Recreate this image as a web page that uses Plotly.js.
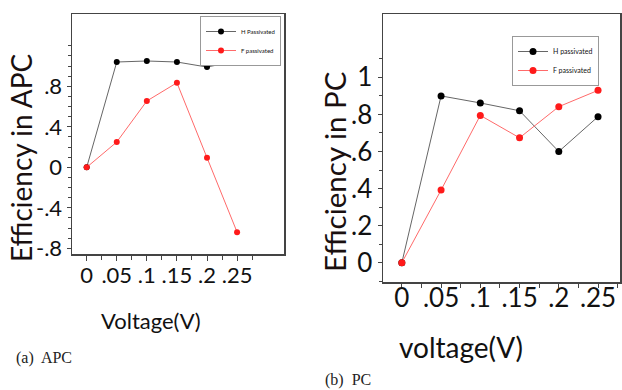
<!DOCTYPE html>
<html>
<head>
<meta charset="utf-8">
<script src="https://cdn.plot.ly/plotly-3.0.1.min.js"></script>
<style>html,body{margin:0;padding:0;background:#fff;} #chart{width:622px;height:390px;}</style>
</head>
<body>
<div id="chart"></div>
<script>
// ---- data ----
const voltage = [0, 0.05, 0.1, 0.15, 0.2, 0.25];
const apcH = [0, 1.04, 1.05, 1.04, 0.99, 1.05];
const apcF = [0, 0.25, 0.655, 0.835, 0.095, -0.64];
const pcH = [0, 0.90, 0.862, 0.82, 0.60, 0.788];
const pcF = [0, 0.392, 0.795, 0.674, 0.842, 0.93];

const xTickVals = [0, 0.05, 0.1, 0.15, 0.2, 0.25];
const xTickText = ['0', '.05', '.1', '.15', '.2', '.25'];
const apcYTickVals = [-0.8, -0.4, 0, 0.4, 0.8];
const apcYTickText = ['-.8', '-.4', '0', '.4', '.8'];
const pcYTickVals = [0, 0.2, 0.4, 0.6, 0.8, 1];
const pcYTickText = ['0', '.2', '.4', '.6', '.8', '1'];
const apcYMinor = [-0.7, -0.6, -0.5, -0.3, -0.2, -0.1, 0.1, 0.2, 0.3, 0.5, 0.6, 0.7, 0.9, 1.0, 1.1, 1.2];
const pcYMinor = [-0.1, 0.1, 0.3, 0.5, 0.7, 0.9, 1.1];
const apcXMinor = [0.025, 0.075, 0.125, 0.175, 0.225, 0.275];
const pcXMinor = [-0.025, 0.025, 0.075, 0.125, 0.175, 0.225, 0.275];

const W = 622, H = 390;
const FONT = 'Lato, "Open Sans", sans-serif';
const SERIF = '"Liberation Serif", "DejaVu Serif", serif';

const blackLine = '#666666', blackMark = '#000000';
const redLine = '#ff6a6a', redMark = '#ff1a1a';

const traces = [
  {x: voltage, y: apcH, name: 'H Passivated', mode: 'lines+markers', xaxis: 'x', yaxis: 'y', legend: 'legend',
   line: {color: blackLine, width: 1}, marker: {color: blackMark, size: 6}},
  {x: voltage, y: apcF, name: 'F passivated', mode: 'lines+markers', xaxis: 'x', yaxis: 'y', legend: 'legend',
   line: {color: redLine, width: 1}, marker: {color: redMark, size: 6}},
  {x: voltage, y: pcH, name: 'H passivated', mode: 'lines+markers', xaxis: 'x2', yaxis: 'y2', legend: 'legend2',
   line: {color: blackLine, width: 1}, marker: {color: blackMark, size: 7}},
  {x: voltage, y: pcF, name: 'F passivated', mode: 'lines+markers', xaxis: 'x2', yaxis: 'y2', legend: 'legend2',
   line: {color: redLine, width: 1}, marker: {color: redMark, size: 7}}
];

function px(x) { return x / W; }
function py(y) { return 1 - y / H; }

const axisCommon = {
  showgrid: false, zeroline: false, showline: true, mirror: true,
  linecolor: '#444', linewidth: 1.5, ticks: 'outside', tickcolor: '#444',
  tickfont: {family: FONT, color: '#111'}
};

const layout = {
  width: W, height: H,
  margin: {l: 0, r: 0, t: 0, b: 0},
  paper_bgcolor: '#fff', plot_bgcolor: '#fff',
  font: {family: FONT, color: '#111'},
  xaxis: Object.assign({}, axisCommon, {
    domain: [px(72), px(284)], anchor: 'y', range: [-0.0244, 0.328],
    tickvals: xTickVals, ticktext: xTickText, ticklen: 5, tickwidth: 1,
    ticklabelstandoff: -4,
    tickfont: {family: FONT, size: 22, color: '#111'},
    minor: {tickvals: apcXMinor, ticks: 'outside', ticklen: 4, tickcolor: '#444'}
  }),
  yaxis: Object.assign({}, axisCommon, {
    domain: [py(254), py(14)], anchor: 'x', range: [-0.856, 1.514],
    tickvals: apcYTickVals, ticktext: apcYTickText, ticklen: 4, tickwidth: 1,
    tickfont: {family: FONT, size: 22, color: '#111'},
    minor: {tickvals: apcYMinor, ticks: 'outside', ticklen: 3, tickcolor: '#444'}
  }),
  xaxis2: Object.assign({}, axisCommon, {
    domain: [px(383), px(620)], anchor: 'y2', range: [-0.024, 0.278],
    tickvals: xTickVals, ticktext: xTickText, ticklen: 4, tickwidth: 1,
    ticklabelstandoff: -12,
    tickfont: {family: FONT, size: 26, color: '#111'},
    minor: {tickvals: pcXMinor, ticks: 'outside', ticklen: 4, tickcolor: '#444'}
  }),
  yaxis2: Object.assign({}, axisCommon, {
    domain: [py(282), py(14)], anchor: 'x2', range: [-0.104, 1.342],
    tickvals: pcYTickVals, ticktext: pcYTickText, ticklen: 4, tickwidth: 1,
    tickfont: {family: FONT, size: 26, color: '#111'},
    minor: {tickvals: pcYMinor, ticks: 'outside', ticklen: 3, tickcolor: '#444'}
  }),
  showlegend: true,
  legend: {x: px(281), y: py(16), xanchor: 'right', yanchor: 'top', bgcolor: '#fff',
    bordercolor: '#999', borderwidth: 1, font: {family: FONT, size: 6, color: '#111'},
    itemwidth: 30, tracegroupgap: 0},
  legend2: {x: px(599), y: py(36), xanchor: 'right', yanchor: 'top', bgcolor: '#fff',
    bordercolor: '#999', borderwidth: 1, font: {family: FONT, size: 7, color: '#111'},
    itemwidth: 30, tracegroupgap: 0},
  annotations: [
    {text: 'Efficiency in APC', xref: 'paper', yref: 'paper', x: px(21), y: py(158), textangle: -90,
     xanchor: 'center', yanchor: 'middle', showarrow: false,
     font: {family: FONT, size: 28, color: '#1a1010'}},
    {text: 'Voltage(V)', xref: 'paper', yref: 'paper', x: px(151), y: py(320),
     xanchor: 'center', yanchor: 'middle', showarrow: false,
     font: {family: FONT, size: 22, color: '#111'}},
    {text: 'Efficiency in PC', xref: 'paper', yref: 'paper', x: px(334), y: py(172), textangle: -90,
     xanchor: 'center', yanchor: 'middle', showarrow: false,
     font: {family: FONT, size: 29.5, color: '#1a1010'}},
    {text: 'voltage(V)', xref: 'paper', yref: 'paper', x: px(461), y: py(347),
     xanchor: 'center', yanchor: 'middle', showarrow: false,
     font: {family: FONT, size: 28, color: '#111'}},
    {text: '(a)  APC', xref: 'paper', yref: 'paper', x: px(14), y: py(358), xanchor: 'left', yanchor: 'middle',
     showarrow: false, font: {family: SERIF, size: 16, color: '#222'}},
    {text: '(b)  PC', xref: 'paper', yref: 'paper', x: px(323), y: py(380), xanchor: 'left', yanchor: 'middle',
     showarrow: false, font: {family: SERIF, size: 16, color: '#222'}}
  ]
};

Plotly.newPlot('chart', traces, layout, {displayModeBar: false, staticPlot: true});
</script>
</body>
</html>
